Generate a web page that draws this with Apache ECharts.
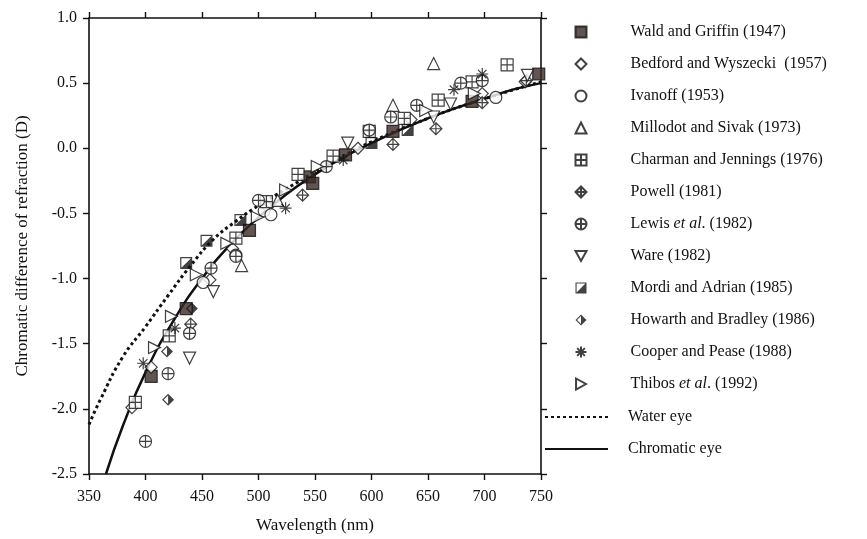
<!DOCTYPE html>
<html>
<head>
<meta charset="utf-8">
<script src="https://cdn.jsdelivr.net/npm/echarts@6/dist/echarts.min.js"></script>
<style>
    html, body { margin: 0; padding: 0; background: #fff; }
    #chart { width: 867px; height: 539px; }
</style>
</head>
<body>
<div id="chart"></div>
<script>
// data: [wavelength nm, dioptres]
var wald = [[405, -1.75], [436, -1.23], [492, -0.63], [545, -0.22], [548, -0.27], [577, -0.05], [619, 0.13], [689, 0.36], [748, 0.57]];
var bedford = [[388, -1.99], [405, -1.68], [457, -1.01], [477, -0.77], [508, -0.45], [588, 0.00], [635, 0.22], [698, 0.42], [736, 0.51]];
var ivanoff = [[451, -1.03], [480, -0.82], [505, -0.48], [511, -0.51], [710, 0.39]];
var millodot = [[485, -0.90], [517, -0.40], [619, 0.33], [655, 0.65]];
var charman = [[391, -1.95], [421, -1.44], [480, -0.69], [507, -0.41], [535, -0.20], [566, -0.06], [598, 0.13], [629, 0.23], [659, 0.37], [689, 0.51], [720, 0.64]];
var powell = [[440, -1.35], [539, -0.36], [619, 0.03], [657, 0.15], [698, 0.35], [737, 0.52]];
var lewis = [[400, -2.25], [420, -1.73], [439, -1.42], [458, -0.92], [480, -0.83], [500, -0.40], [560, -0.14], [598, 0.14], [617, 0.24], [640, 0.33], [679, 0.50], [698, 0.52]];
var ware = [[439, -1.61], [460, -1.10], [579, 0.04], [655, 0.24], [670, 0.34], [738, 0.56]];
var mordi = [[436, -0.88], [454, -0.71], [484, -0.55], [600, 0.04], [632, 0.14]];
var howarth = [[419, -1.56], [420, -1.93], [441, -1.23]];
var cooper = [[398, -1.65], [426, -1.38], [524, -0.46], [575, -0.09], [673, 0.45], [698, 0.57]];
var thibos = [[408, -1.53], [423, -1.29], [445, -0.97], [472, -0.73], [499, -0.53], [524, -0.32], [552, -0.14], [648, 0.29], [691, 0.42]];

var waterEye = [[350, -2.12], [360, -1.93], [380, -1.60], [400, -1.37], [420, -1.13], [440, -0.90], [460, -0.70], [480, -0.56], [500, -0.44], [525, -0.31], [550, -0.18], [575, -0.06], [600, 0.05], [650, 0.23], [700, 0.38], [750, 0.51]];
var chromaticEye = [[365, -2.50], [380, -2.13], [400, -1.72], [425, -1.32], [450, -1.00], [475, -0.74], [500, -0.53], [525, -0.35], [550, -0.20], [575, -0.07], [600, 0.04], [625, 0.14], [650, 0.23], [675, 0.31], [700, 0.38], [725, 0.45], [750, 0.50]];

var xTicks = [350, 400, 450, 500, 550, 600, 650, 700, 750];
var yTicks = [-2.5, -2.0, -1.5, -1.0, -0.5, 0.0, 0.5, 1.0];

var FONT = 'Liberation Serif';
var INK = '#111';
var DARK = '#3a2a27';

// marker shapes
var SQ_PLUS = 'path://M0,0L20,0L20,20L0,20Z M10,0L10,20 M0,10L20,10';
var DIA = 'path://M10,0L20,10L10,20L0,10Z';
var DIA_PLUS = 'path://M10,0L20,10L10,20L0,10Z M10,0L10,20 M0,10L20,10';
var CIRC_PLUS = 'path://M0,10A10,10,0,1,1,20,10A10,10,0,1,1,0,10Z M10,0L10,20 M0,10L20,10';
var TRI_DOWN = 'path://M0,0L20,0L10,18Z';
var TRI_RIGHT = 'path://M0,0L18,10L0,20Z';
var STAR = 'path://M10,0L10,20 M0,10L20,10 M3,3L17,17 M17,3L3,17';
var SQ_HALF = 'path://M0,0L20,0L20,20L0,20Z M2,2L2,18L18,18L18,2Z M18,2L18,18L2,18Z';
var DIA_HALF = 'path://M10,0L20,10L10,20L0,10Z M10,2.8L2.8,10L10,17.2L17.2,10Z M10,2.8L17.2,10L10,17.2Z';

function scatter(name, data, symbol, fill, border) {
    return {
        name: name,
        type: 'scatter',
        data: data,
        symbol: symbol,
        symbolSize: 12,
        z: 3,
        itemStyle: { color: fill, borderColor: INK, borderWidth: border }
    };
}

var markerNames = ['Wald and Griffin (1947)', 'Bedford and Wyszecki  (1957)', 'Ivanoff (1953)', 'Millodot and Sivak (1973)',
    'Charman and Jennings (1976)', 'Powell (1981)', 'Lewis et al. (1982)', 'Ware (1982)', 'Mordi and Adrian (1985)',
    'Howarth and Bradley (1986)', 'Cooper and Pease (1988)', 'Thibos et al. (1992)'];

var series = [
    {
        name: 'Water eye', type: 'line', data: waterEye, smooth: true, symbol: 'none', z: 2,
        itemStyle: { color: INK },
        lineStyle: { color: INK, width: 3, type: [3, 3] }
    },
    {
        name: 'Chromatic eye', type: 'line', data: chromaticEye, smooth: true, symbol: 'none', z: 2,
        itemStyle: { color: INK },
        lineStyle: { color: INK, width: 2.5 }
    },
    scatter(markerNames[0], wald, 'rect', DARK, 1.2),
    scatter(markerNames[1], bedford, DIA, '#fff', 1.2),
    scatter(markerNames[2], ivanoff, 'circle', '#fff', 1.2),
    scatter(markerNames[3], millodot, 'triangle', '#fff', 1.2),
    scatter(markerNames[4], charman, SQ_PLUS, '#fff', 1.2),
    scatter(markerNames[5], powell, DIA_PLUS, '#fff', 1.2),
    scatter(markerNames[6], lewis, CIRC_PLUS, '#fff', 1.2),
    scatter(markerNames[7], ware, TRI_DOWN, '#fff', 1.2),
    scatter(markerNames[8], mordi, SQ_HALF, INK, 0),
    scatter(markerNames[9], howarth, DIA_HALF, INK, 0),
    scatter(markerNames[10], cooper, STAR, 'none', 1.2),
    scatter(markerNames[11], thibos, TRI_RIGHT, '#fff', 1.2)
];

// "et al." is set in italics in the key
function legendText(n) {
    if (n.indexOf('et al.') < 0) return '{n|' + n + '}';
    var parts = n.split('et al');
    return '{n|' + parts[0] + '}{i|et al}{n|' + parts[1] + '}';
}
var legendRich = {
    n: { fontFamily: FONT, fontSize: 16, color: INK },
    i: { fontFamily: FONT, fontSize: 16, color: INK, fontStyle: 'italic' }
};

var axisLine = { onZero: false, lineStyle: { color: INK, width: 1.6 } };
var axisTick = { length: 6, lineStyle: { color: INK, width: 1.4 } };

var myChart = echarts.init(document.getElementById('chart'));

var option = {
    backgroundColor: '#fff',
    animation: false,
    textStyle: { fontFamily: FONT, color: INK },
    grid: { left: 89, right: 326, top: 18, bottom: 65 },
    legend: [
        {
            data: markerNames,
            orient: 'vertical',
            left: 568, top: 18,
            itemWidth: 11, itemHeight: 11, itemGap: 14,
            selectedMode: false,
            formatter: legendText,
            textStyle: { fontFamily: FONT, fontSize: 16, color: INK, lineHeight: 18, padding: [0, 0, 0, 39], rich: legendRich }
        },
        {
            data: ['Water eye', 'Chromatic eye'],
            orient: 'vertical',
            left: 539, top: 403,
            itemWidth: 63, itemHeight: 10, itemGap: 14,
            selectedMode: false,
            itemStyle: { opacity: 0 },
            textStyle: { fontFamily: FONT, fontSize: 16, color: INK, lineHeight: 18, padding: [0, 0, 0, 15] }
        }
    ],
    xAxis: [
        {
            type: 'value', min: xTicks[0], max: xTicks[xTicks.length - 1], interval: 50,
            name: 'Wavelength (nm)', nameLocation: 'middle', nameGap: 43,
            nameTextStyle: { fontFamily: FONT, fontSize: 17, color: INK },
            axisLine: axisLine, axisTick: axisTick, splitLine: { show: false },
            axisLabel: { fontFamily: FONT, fontSize: 16, color: INK, margin: 15 }
        },
        {
            type: 'value', position: 'top', min: xTicks[0], max: xTicks[xTicks.length - 1], interval: 50,
            axisLine: axisLine, axisTick: axisTick, splitLine: { show: false },
            axisLabel: { show: false }
        }
    ],
    yAxis: [
        {
            type: 'value', min: yTicks[0], max: yTicks[yTicks.length - 1], interval: 0.5,
            name: 'Chromatic difference of refraction (D)', nameLocation: 'middle', nameGap: 58,
            nameTextStyle: { fontFamily: FONT, fontSize: 17, color: INK },
            axisLine: axisLine, axisTick: axisTick, splitLine: { show: false },
            axisLabel: {
                fontFamily: FONT, fontSize: 16, color: INK, margin: 12,
                formatter: function (v) { return v.toFixed(1); }
            }
        },
        {
            type: 'value', position: 'right', min: yTicks[0], max: yTicks[yTicks.length - 1], interval: 0.5,
            axisLine: axisLine, axisTick: axisTick, splitLine: { show: false },
            axisLabel: { show: false }
        }
    ],
    series: series
};

myChart.setOption(option);
</script>
</body>
</html>
